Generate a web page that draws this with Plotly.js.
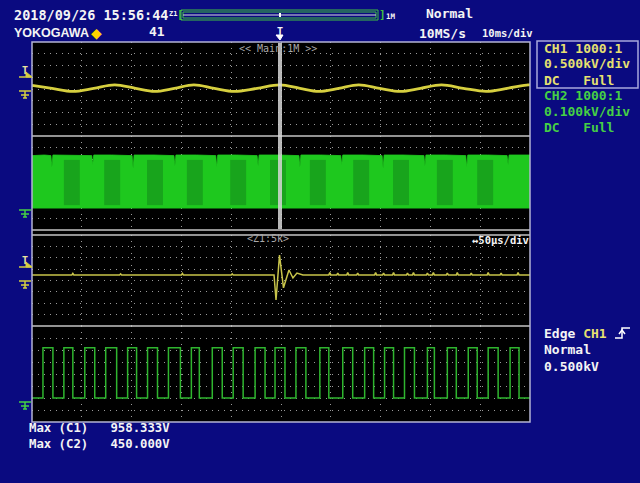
<!DOCTYPE html>
<html><head><meta charset="utf-8">
<script src="https://cdn.plot.ly/plotly-3.0.1.min.js"></script>
<style>html,body{margin:0;padding:0;background:#0a0a80;overflow:hidden;}</style>
</head><body><div id="chart" style="width:640px;height:483px;"></div>
<script>
// ---------- DATA ----------
// Zone 1: CH1 main window, time in ms (10 ms/div), value in kV
const mainTime = [0, 4.0, 8.2, 12.4, 16.6, 20.8, 24.6, 28.6, 32.5, 36.6, 40.6, 45.2, 49.8, 53.8, 57.6, 61.6, 65.6, 69.8, 74.0, 78.0, 82.2, 86.6, 91.2, 95.4, 99.6, 100];
const ch1Main  = [0.15, 0.07, -0.01, 0.07, 0.16, 0.07, -0.01, 0.07, 0.16, 0.07, -0.01, 0.07, 0.16, 0.07, -0.01, 0.07, 0.16, 0.07, -0.01, 0.07, 0.16, 0.07, -0.01, 0.07, 0.16, 0.16];

// Zone 2: CH2 main window (dense PWM envelope), ms / kV
const bandTime = [0, 2.5,
  3.8, 4.0, 4.2, 8.0,   12.0, 12.2, 12.4, 16.0,  20.1, 20.3, 20.5, 24.5,  28.5, 28.7, 28.9, 33.0,
  36.9, 37.1, 37.3, 41.0, 45.2, 45.4, 45.6, 49.5,  53.6, 53.8, 54.0, 58.0,  62.0, 62.2, 62.4, 66.5,
  70.3, 70.5, 70.7, 74.5, 78.7, 78.9, 79.1, 83.0,  87.1, 87.3, 87.5, 91.5,  95.4, 95.6, 95.8, 100];
const ch2BandTop = [0.445, 0.45,
  0.445, 0.35, 0.45, 0.45,  0.445, 0.37, 0.45, 0.45,  0.445, 0.34, 0.45, 0.45,  0.445, 0.36, 0.45, 0.45,
  0.445, 0.35, 0.45, 0.45,  0.445, 0.36, 0.45, 0.45,  0.445, 0.35, 0.45, 0.45,  0.445, 0.37, 0.45, 0.45,
  0.445, 0.34, 0.45, 0.45,  0.445, 0.36, 0.45, 0.45,  0.445, 0.35, 0.45, 0.45,  0.445, 0.37, 0.45, 0.45];
const bandBottomTime = [0, 100];
const ch2BandBottom = [0.015, 0.015];
// darker patches inside the band (centre time, width, bottom, top)
const patchTime   = [8.0, 16.1, 24.7, 32.7, 41.4, 49.4, 57.4, 66.1, 74.1, 82.9, 91.0];
const patchWidth  = [3.2, 3.2, 3.2, 3.2, 3.2, 3.2, 3.2, 3.2, 3.2, 3.2, 3.2];
const patchBottom = [0.04, 0.04, 0.04, 0.04, 0.04, 0.04, 0.04, 0.04, 0.04, 0.04, 0.04];
const patchTop    = [0.41, 0.41, 0.41, 0.41, 0.41, 0.41, 0.41, 0.41, 0.41, 0.41, 0.41];

// Zone 3: CH1 zoom window, time in µs (50 µs/div), kV
const zoomTime = [0, 40, 41, 42, 88, 89, 90, 150, 151, 152, 200, 201, 202,
  243, 245, 248.5, 252.5, 258, 262, 266, 272,
  298, 299, 300, 306, 307, 308, 316, 317, 318, 326, 327, 328, 344, 345, 346, 352, 353, 354,
  362, 363, 364, 376, 377, 378, 382, 383, 384, 396, 397, 398, 402, 403, 404, 416, 417, 418,
  426, 427, 428, 440, 441, 442, 457, 458, 459, 470, 471, 472, 487, 488, 489, 500];
const ch1Zoom = [0.16, 0.16, 0.20, 0.16, 0.16, 0.19, 0.16, 0.16, 0.20, 0.16, 0.16, 0.19, 0.16,
  0.16, -0.50, 0.68, -0.18, 0.29, 0.08, 0.21, 0.16,
  0.16, 0.22, 0.16, 0.16, 0.21, 0.16, 0.16, 0.22, 0.16, 0.16, 0.21, 0.16, 0.16, 0.22, 0.16, 0.16, 0.21, 0.16,
  0.16, 0.22, 0.16, 0.16, 0.21, 0.16, 0.16, 0.22, 0.16, 0.16, 0.21, 0.16, 0.16, 0.22, 0.16, 0.16, 0.21, 0.16,
  0.16, 0.22, 0.16, 0.16, 0.21, 0.16, 0.16, 0.22, 0.16, 0.16, 0.21, 0.16, 0.16, 0.22, 0.16, 0.16];

// Zone 4: CH2 zoom window square wave, edge times in µs, levels in kV
const ch2Rise = [11, 32, 53, 74, 96, 116, 137, 160, 181, 202, 224, 244, 265, 289, 312, 334, 354, 374, 397, 417, 438, 458, 480];
const ch2Fall = [21, 41, 63, 85, 105, 126, 149, 168, 191, 212, 234, 254, 275, 298, 322, 343, 363, 384, 404, 426, 447, 468, 489];
const ch2Levels = [0.033, 0.443]; // low, high

// Text / readouts
const dateText = '2018/09/26 15:56:44';
const ch1Info = ['CH1 1000:1', '0.500kV/div', 'DC   Full'];
const ch2Info = ['CH2 1000:1', '0.100kV/div', 'DC   Full'];
const maxLabels = ['Max (C1)', 'Max (C2)'];
const maxValues = ['958.333V', '450.000V'];
const cursorTime = 49.8;   // ms, zoom position marker
const triggerLevel = 0.5;  // kV

// ---------- LAYOUT HELPERS ----------
const PX = px => (px - 32) / 498;
const PY = py => (422 - py) / 380;
const MONO = 'DejaVu Sans Mono';
const YEL = '#d6cf3f', YELT = '#e6e070', GRN = '#2fb52f', GRNT = '#45d045';
const nb = s => (s.indexOf('<span') >= 0 ? s : s.replace(/ /g, '\u00a0'));

function ann(text, px, py, size, color, extra) {
  return Object.assign({text: nb(text), xref: 'paper', yref: 'paper', x: PX(px), y: PY(py),
    xanchor: 'left', yanchor: 'middle', showarrow: false,
    font: {family: MONO, size: size, color: color, weight: 'bold'}}, extra || {});
}

function xAx(range, dtick, anchor) {
  return {domain: [0, 1], range: range, dtick: dtick, tick0: 0, anchor: anchor,
    showgrid: true, gridcolor: '#9a9a9a', griddash: '1px,5px', gridwidth: 1,
    zeroline: false, showticklabels: false, ticks: '', showline: false, fixedrange: true};
}
function yAx(domain, range, anchor) {
  return {domain: domain, range: range, tick0: range[0], dtick: (range[1] - range[0]) / 8, anchor: anchor,
    showgrid: true, gridcolor: '#9a9a9a', griddash: '1px,5px', gridwidth: 1,
    zeroline: false, showticklabels: false, ticks: '', showline: false, fixedrange: true};
}

// ---------- TRACES ----------
const sqX = [0], sqY = [ch2Levels[0]];
for (let i = 0; i < ch2Rise.length; i++) {
  sqX.push(ch2Rise[i]); sqY.push(ch2Levels[1]);
  sqX.push(ch2Fall[i]); sqY.push(ch2Levels[0]);
}
sqX.push(500); sqY.push(ch2Levels[0]);

// patch rectangles (one trace per patch so each is filled on its own)
const patchTraces = patchTime.map((t, i) => ({
  x: [t - patchWidth[i] / 2, t + patchWidth[i] / 2, t + patchWidth[i] / 2, t - patchWidth[i] / 2, t - patchWidth[i] / 2],
  y: [patchBottom[i], patchBottom[i], patchTop[i], patchTop[i], patchBottom[i]],
  xaxis: 'x2', yaxis: 'y2', mode: 'lines', fill: 'toself', fillcolor: '#18a41c',
  line: {width: 0, color: '#18a41c'}, hoverinfo: 'skip'}));

const traces = [
  {x: mainTime, y: ch1Main, xaxis: 'x', yaxis: 'y', mode: 'lines',
   line: {color: YEL, width: 2.8, shape: 'spline', smoothing: 1.0}, hoverinfo: 'skip'},
  {x: bandBottomTime, y: ch2BandBottom, xaxis: 'x2', yaxis: 'y2', mode: 'lines',
   line: {color: '#1ec81e', width: 0.5}, hoverinfo: 'skip'},
  {x: bandTime, y: ch2BandTop, xaxis: 'x2', yaxis: 'y2', mode: 'lines', fill: 'tonexty',
   fillcolor: '#1ec81e', line: {color: '#1ec81e', width: 0.8}, hoverinfo: 'skip'}
].concat(patchTraces).concat([
  {x: zoomTime, y: ch1Zoom, xaxis: 'x3', yaxis: 'y3', mode: 'lines',
   line: {color: '#c8c44a', width: 1.5}, hoverinfo: 'skip'},
  {x: sqX, y: sqY, xaxis: 'x4', yaxis: 'y4', mode: 'lines',
   line: {color: GRN, width: 1.5, shape: 'hv'}, hoverinfo: 'skip'}
]);

// ---------- SHAPES ----------
const shapes = [];
shapes.push({type: 'rect', xref: 'paper', yref: 'paper', x0: 0, x1: 1, y0: PY(235), y1: PY(230),
  fillcolor: '#000000', line: {width: 0}, layer: 'below'});
[136, 326, 230, 235].forEach(py => shapes.push({type: 'line', xref: 'paper', yref: 'paper',
  x0: 0, x1: 1, y0: PY(py), y1: PY(py), line: {color: '#c4c4c4', width: 1.5}}));
shapes.push({type: 'rect', xref: 'paper', yref: 'paper', x0: 0, x1: 1, y0: 0, y1: 1,
  line: {color: '#b4b4d4', width: 1.5}});
// zoom position cursor
shapes.push({type: 'line', xref: 'x', yref: 'paper', x0: cursorTime, x1: cursorTime,
  y0: PY(229), y1: PY(43), line: {color: 'rgba(215,215,215,0.85)', width: 4}});
// ground markers
[['y', YEL], ['y2', GRNT], ['y3', YEL], ['y4', GRNT]].forEach(([ya, c]) => {
  const base = {xref: 'paper', yref: ya, ysizemode: 'pixel', yanchor: 0, type: 'line', line: {color: c, width: 1.5}};
  shapes.push(Object.assign({}, base, {x0: PX(19), x1: PX(31), y0: 0, y1: 0}));
  shapes.push(Object.assign({}, base, {x0: PX(25), x1: PX(25), y0: 0, y1: -7}));
  shapes.push(Object.assign({}, base, {x0: PX(21), x1: PX(29), y0: -4, y1: -4}));
  shapes.push(Object.assign({}, base, {x0: PX(23), x1: PX(27), y0: -7, y1: -7}));
});
// trigger level markers
['y', 'y3'].forEach(ya => {
  shapes.push({type: 'path', xref: 'paper', yref: ya, ysizemode: 'pixel', yanchor: triggerLevel,
    path: `M${PX(26)},0 L${PX(32)},-5 L${PX(26)},-5 Z`, fillcolor: YEL, line: {color: YEL, width: 1}});
  shapes.push({type: 'line', xref: 'paper', yref: ya, ysizemode: 'pixel', yanchor: triggerLevel,
    x0: PX(19), x1: PX(32), y0: -5, y1: -5, line: {color: YEL, width: 1.5}});
});
// top zoom bar
shapes.push({type: 'rect', xref: 'paper', yref: 'paper', x0: PX(181), x1: PX(378), y0: PY(20), y1: PY(10),
  line: {color: '#40c040', width: 1}});
shapes.push({type: 'rect', xref: 'paper', yref: 'paper', x0: PX(183), x1: PX(376), y0: PY(18), y1: PY(12),
  line: {color: '#40c040', width: 1}});
shapes.push({type: 'line', xref: 'paper', yref: 'paper', x0: PX(183), x1: PX(376), y0: PY(15), y1: PY(15),
  line: {color: '#e0e0e0', width: 1}});
shapes.push({type: 'line', xref: 'paper', yref: 'paper', x0: PX(280), x1: PX(280), y0: PY(17), y1: PY(13),
  line: {color: '#ffffff', width: 2}});
// top trigger-position marker
shapes.push({type: 'path', xref: 'paper', yref: 'paper',
  path: `M${PX(276)},${PY(35)} L${PX(283)},${PY(35)} L${PX(280)},${PY(40)} Z`,
  fillcolor: '#ffffff', line: {color: '#ffffff', width: 1}});
// CH1 info box
shapes.push({type: 'rect', xref: 'paper', yref: 'paper', x0: PX(537), x1: PX(638), y0: PY(88), y1: PY(41),
  line: {color: '#a8a8dc', width: 1.5}});
// rising edge symbol
shapes.push({type: 'path', xref: 'paper', yref: 'paper',
  path: `M${PX(615)},${PY(338)} L${PX(622)},${PY(338)} L${PX(622)},${PY(328)} L${PX(630)},${PY(328)}`,
  line: {color: '#ffffff', width: 1.5}});
shapes.push({type: 'path', xref: 'paper', yref: 'paper',
  path: `M${PX(619)},${PY(334)} L${PX(622)},${PY(330)} L${PX(625)},${PY(334)}`,
  line: {color: '#ffffff', width: 1.5}});

// ---------- ANNOTATIONS ----------
const W = '#f4f4f4';
const anns = [
  ann(dateText, 12, 15, 13.5, W),
  ann('Z1', 167, 14, 7, W),
  ann('[', 175, 15, 11, '#40c040'),
  ann(']', 377, 15, 11, '#40c040'),
  ann('1M', 384, 16, 7.5, W),
  ann('Normal', 424, 14, 13, W),
  ann('YOKOGAWA', 12, 33, 12.5, W, {font: {family: 'Liberation Sans', size: 12.5, color: W, weight: 'bold'}}),
  ann('\u25C6', 89, 33, 14, '#ffd400', {font: {family: 'DejaVu Sans', size: 14, color: '#ffd400'}}),
  ann('41', 147, 32, 13, W),
  ann('T', 275, 31, 10, W),
  ann('10MS/s', 417, 33, 13, W),
  ann('10ms/div', 480, 33, 10.5, W),
  ann('<< Main:1M >>', 278, 48, 10, '#a8a8a8', {xanchor: 'center', font: {family: MONO, size: 10, color: '#a8a8a8'}}),
  ann('<Z1:5k>', 268, 239, 10, '#a8a8a8', {xanchor: 'center', font: {family: MONO, size: 10, color: '#a8a8a8'}}),
  ann('\u219450\u03bcs/div', 470, 240, 10.5, W),
  ann(ch1Info[0], 542, 48, 13, YELT), ann(ch1Info[1], 542, 64, 13, YELT), ann(ch1Info[2], 542, 80, 13, YELT),
  ann(ch2Info[0], 542, 95, 13, GRNT), ann(ch2Info[1], 542, 111, 13, GRNT), ann(ch2Info[2], 542, 127, 13, GRNT),
  ann('Edge\u00a0<span style="color:' + YELT + '">CH1</span>', 542, 333, 13, W),
  ann('Normal', 542, 349, 13, W),
  ann('0.500kV', 542, 366, 13, W),
  ann(maxLabels[0] + '   ' + maxValues[0], 27, 428, 12.3, W),
  ann(maxLabels[1] + '   ' + maxValues[1], 27, 444, 12.3, W)
];
['y', 'y3'].forEach(ya => anns.push({text: 'T', xref: 'paper', yref: ya, x: PX(20), y: triggerLevel,
  xanchor: 'left', yanchor: 'bottom', yshift: -6, showarrow: false,
  font: {family: MONO, size: 10, color: '#e8e4a0', weight: 'bold'}}));

const layout = {
  width: 640, height: 483,
  margin: {l: 32, r: 110, t: 42, b: 61, pad: 0},
  paper_bgcolor: '#0a0a80', plot_bgcolor: '#000000',
  showlegend: false,
  xaxis: xAx([0, 100], 10, 'y'),
  xaxis2: xAx([0, 100], 10, 'y2'),
  xaxis3: xAx([0, 500], 50, 'y3'),
  xaxis4: xAx([0, 500], 50, 'y4'),
  yaxis: yAx([PY(136), 1], [-1.1842, 1.2895], 'x'),
  yaxis2: yAx([PY(230), PY(136)], [-0.1637, 0.6056], 'x2'),
  yaxis3: yAx([PY(326), PY(235)], [-1.1842, 1.2105], 'x3'),
  yaxis4: yAx([0, PY(326)], [-0.1637, 0.6219], 'x4'),
  shapes: shapes,
  annotations: anns
};

Plotly.newPlot('chart', traces, layout, {displayModeBar: false, staticPlot: true});
</script>
</body></html>
